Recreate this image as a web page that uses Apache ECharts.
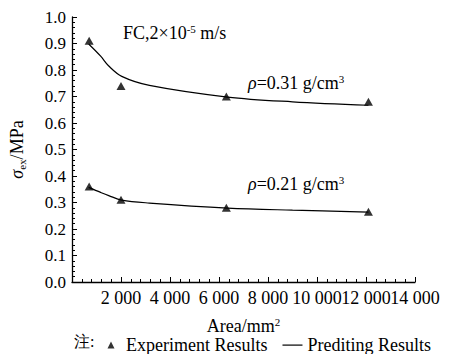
<!DOCTYPE html>
<html>
<head>
<meta charset="utf-8">
<script src="https://cdn.jsdelivr.net/npm/echarts@6/dist/echarts.min.js"></script>
<style>
  html, body { margin: 0; padding: 0; background: #fff; }
  #chart { width: 451px; height: 354px; }
</style>
</head>
<body>
<div id="chart"></div>
<script>
// experiment points (area mm^2, sigma MPa)
const expX = [700, 2000, 6300, 12100];
const exp031 = [0.91, 0.74, 0.70, 0.68];
const exp021 = [0.36, 0.31, 0.28, 0.265];

// predicted curves
const predX = [680, 1170, 1500, 2030, 3160, 6350, 9000, 12100];
const pred031 = [0.898, 0.852, 0.815, 0.776, 0.742, 0.698, 0.68, 0.667];
const pred021 = [0.357, 0.338, 0.326, 0.309, 0.298, 0.279, 0.271, 0.264];

// tick labels
const xTicks = [0, 2000, 4000, 6000, 8000, 10000, 12000, 14000];
const yTicks = [0, 0.1, 0.2, 0.3, 0.4, 0.5, 0.6, 0.7, 0.8, 0.9, 1.0];

const serif = "Liberation Serif, serif";
const fs = 18;

function zip(xs, ys) {
  return xs.map((x, i) => [x, ys[i]]);
}

function sep(v) {
  return String(v).replace(/\B(?=(\d{3})+(?!\d))/g, " ");
}

const chart = echarts.init(document.getElementById("chart"), null, { renderer: "svg" });

const lineSerie = (data) => ({
  name: "Prediting Results",
  type: "line",
  data: data,
  smooth: 0.35,
  symbol: "none",
  lineStyle: { color: "#000", width: 1.2 },
  itemStyle: { color: "#000" },
  z: 2,
});

const dotSerie = (data) => ({
  name: "Experiment Results",
  type: "scatter",
  data: data,
  symbol: "triangle",
  symbolSize: [9, 8],
  itemStyle: { color: "#000" },
  z: 3,
});

const supRich = (extra) => Object.assign({
  a: { fontFamily: serif, fontSize: fs, color: "#000", lineHeight: 20 },
  y: { fontFamily: serif, fontSize: 17, color: "#000", lineHeight: 20 },
  i: { fontFamily: serif, fontSize: fs, fontStyle: "italic", color: "#000", lineHeight: 20 },
  s: { fontFamily: serif, fontSize: 11, color: "#000", verticalAlign: "top", lineHeight: 13 },
}, extra || {});

const gText = (left, top, text) => ({
  type: "text",
  left: left,
  top: top,
  style: { text: text, fill: "#000", rich: supRich() },
});

const notes = [
  {
    type: "text",
    left: 74,
    top: 333,
    style: { text: "注:", fontFamily: serif, fontSize: 16, fill: "#000" },
  },
  gText(123, 23, "{a|FC,2×10}{s|-5}{a| m/s}"),
  gText(248, 73, "{i|ρ}{a|=0.31 g/cm}{s|3}"),
  gText(248, 174, "{i|ρ}{a|=0.21 g/cm}{s|3}"),
];

const options = {
  animation: false,
  textStyle: { fontFamily: serif, color: "#000" },
  grid: { left: 64, right: 36, top: 17, bottom: 72, containLabel: false },
  xAxis: {
    type: "value",
    min: xTicks[0],
    max: xTicks[xTicks.length - 1],
    interval: xTicks[1] - xTicks[0],
    name: "{a|Area/mm}{s|2}",
    nameLocation: "middle",
    nameGap: 34,
    nameTextStyle: { rich: supRich() },
    axisLine: { lineStyle: { color: "#000", width: 1.3 } },
    axisTick: { inside: true, length: 5, lineStyle: { color: "#000" } },
    minorTick: { show: true, splitNumber: 5, length: 3, lineStyle: { color: "#000" } },
    splitLine: { show: false },
    axisLabel: { show: false },
  },
  yAxis: {
    type: "value",
    min: yTicks[0],
    max: yTicks[yTicks.length - 1],
    interval: 0.1,
    name: "{i|σ}{sub|ex}{a|/MPa}",
    nameLocation: "middle",
    nameGap: 45,
    nameTextStyle: {
      rich: supRich({
        sub: { fontFamily: serif, fontSize: 11, color: "#000", verticalAlign: "bottom", lineHeight: 12 },
      }),
    },
    axisLine: { show: true, lineStyle: { color: "#000", width: 1.3 } },
    axisTick: { inside: true, length: 5, lineStyle: { color: "#000" } },
    minorTick: { show: true, splitNumber: 5, length: 3, lineStyle: { color: "#000" } },
    splitLine: { show: false },
    axisLabel: { show: false },
  },
  legend: {
    left: 96,
    top: 331,
    itemWidth: 20,
    itemHeight: 8,
    itemGap: 15,
    textStyle: { fontFamily: serif, fontSize: fs, color: "#000" },
    data: [
      { name: "Experiment Results", icon: "path://M0,0M10,0.5L13.5,7.5H6.5ZM20,8" },
      { name: "Prediting Results", icon: "path://M0,0M0,3.5H20V4.7H0ZM20,8" },
    ],
  },
  graphic: notes,
  series: [
    lineSerie(zip(predX, pred031)),
    lineSerie(zip(predX, pred021)),
    dotSerie(zip(expX, exp031)),
    dotSerie(zip(expX, exp021)),
  ],
};

chart.setOption(options);

// tick labels placed through the axis scales
const tickLabels = [];
xTicks.filter((v) => v > 0).forEach((v) => {
  const p = chart.convertToPixel({ gridIndex: 0 }, [v, 0]);
  tickLabels.push({
    type: "text",
    x: p[0],
    y: p[1] + 6,
    style: { text: "{a|" + sep(v) + "}", rich: supRich(), align: "center", verticalAlign: "top", fill: "#000" },
  });
});
yTicks.forEach((v) => {
  const p = chart.convertToPixel({ gridIndex: 0 }, [0, v]);
  tickLabels.push({
    type: "text",
    x: p[0] - 6,
    y: p[1],
    style: { text: "{y|" + v.toFixed(1) + "}", rich: supRich(), align: "right", verticalAlign: "middle", fill: "#000" },
  });
});

chart.setOption({ graphic: notes.concat(tickLabels) });
</script>
</body>
</html>
